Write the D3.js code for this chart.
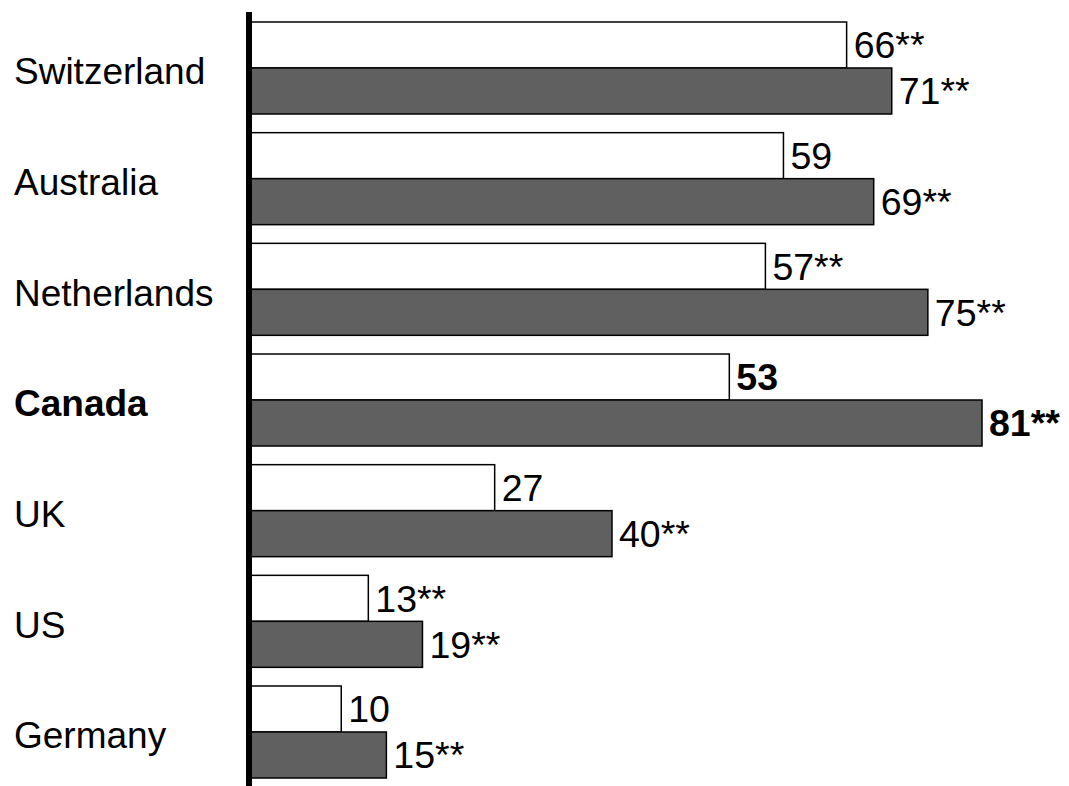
<!DOCTYPE html>
<html><head><meta charset="utf-8">
<script src="https://cdn.jsdelivr.net/npm/d3@7"></script>
<style>body{margin:0;background:#fff;} svg{display:block;font-family:"Liberation Sans",Arial,sans-serif;}</style>
</head><body>
<svg id="c" width="1069" height="786"></svg>
<script>
const categories = ["Switzerland","Australia","Netherlands","Canada","UK","US","Germany"];
const seriesA = [66,59,57,53,27,13,10];
const seriesB = [71,69,75,81,40,19,15];
const sigA = [true,false,true,false,false,true,false];
const sigB = [true,true,true,true,true,true,true];
const highlight = "Canada";

const svg = d3.select("#c");
const x = d3.scaleLinear().domain([0,81]).range([251,982]);
const y = d3.scaleBand().domain(categories).range([22,778]).paddingInner(0.1687).paddingOuter(0);
const sub = d3.scaleBand().domain(["a","b"]).range([0,y.bandwidth()]);

const rows = categories.map((c,i)=>({c, a:seriesA[i], b:seriesB[i], sa:sigA[i], sb:sigB[i]}));
const g = svg.selectAll("g.row").data(rows).join("g").attr("class","row")
  .attr("transform",d=>`translate(0,${y(d.c)})`);

[["a","#ffffff","sa"],["b","#606060","sb"]].forEach(([k,fill,sk])=>{
  g.append("rect").attr("x",x(0)).attr("y",sub(k)).attr("width",d=>x(d[k])-x(0))
   .attr("height",sub.bandwidth()).attr("fill",fill).attr("stroke","#000").attr("stroke-width",1.5);
  g.append("text").attr("x",d=>x(d[k])+7).attr("y",sub(k)+sub.bandwidth()/2).attr("dy","0.36em")
   .attr("font-size",37.5).attr("font-weight",d=>d.c===highlight?"bold":"normal")
   .text(d=>d[k]+(d[sk]?"**":""));
});

g.append("text").attr("x",14).attr("y",y.bandwidth()/2+3).attr("dy","0.36em")
  .attr("font-size",37).attr("font-weight",d=>d.c===highlight?"bold":"normal").text(d=>d.c);

svg.append("line").attr("x1",249).attr("x2",249).attr("y1",12).attr("y2",786)
  .attr("stroke","#000").attr("stroke-width",6);
</script>
</body></html>
